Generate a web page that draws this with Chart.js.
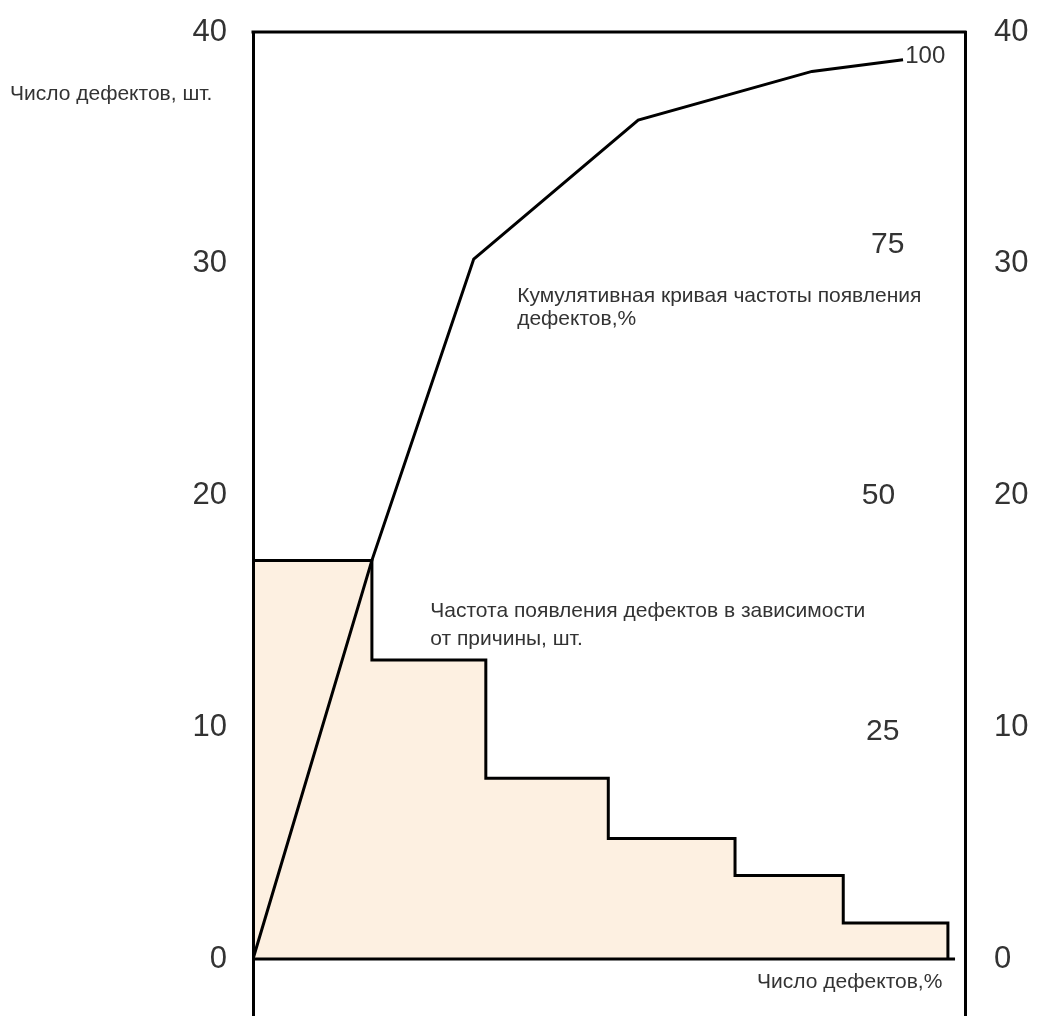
<!DOCTYPE html>
<html>
<head>
<meta charset="utf-8">
<title>Диаграмма Парето</title>
<script src="https://cdn.jsdelivr.net/npm/chart.js@4.4.1/dist/chart.umd.min.js"></script>
<style>
  body { margin: 0; background: #fff; }
  canvas { display: block; }
</style>
</head>
<body>
<canvas id="pareto" width="1045" height="1016"></canvas>
<script>
// Data (y in pieces, x in % of the frame width)
var barEdges = [0, 16.7, 32.7, 49.9, 67.7, 82.9, 97.6];
var defectCounts = [17.2, 12.9, 7.8, 5.2, 3.6, 1.55];
var cumulativeX = [0, 16.7, 31.0, 54.1, 78.5, 91.3];
var cumulativeY = [0, 17.2, 30.2, 36.2, 38.3, 38.8];
var yTicks = [0, 10, 20, 30, 40];
var percentLabels = ["25", "50", "75", "100"];
var percentLevels = [9.8, 20.0, 30.8, 38.95];
var percentX = [86.1, 85.5, 86.8, 91.6];

var FONT = "'Liberation Sans', Arial, sans-serif";
var TEXT = "#333";

// build the stepped outline of the bars
var stepPoints = [];
for (var i = 0; i < defectCounts.length; i++) {
  stepPoints.push({ x: barEdges[i], y: defectCounts[i] });
}
stepPoints.push({ x: barEdges[barEdges.length - 1], y: 0 });

var cumPoints = [];
for (var j = 0; j < cumulativeX.length; j++) {
  cumPoints.push({ x: cumulativeX[j], y: cumulativeY[j] });
}

var basePoints = [{ x: 0, y: 0 }, { x: barEdges[barEdges.length - 1] + 1, y: 0 }];

var textPlugin = {
  id: "texts",
  afterDraw: function(chart) {
    var ctx = chart.ctx;
    var xs = chart.scales.x;
    var ys = chart.scales.y;
    var area = chart.chartArea;
    ctx.save();

    // top of the frame
    ctx.strokeStyle = "#000";
    ctx.lineWidth = 3;
    ctx.beginPath();
    ctx.moveTo(area.left - 1.5, area.top);
    ctx.lineTo(area.right + 1.5, area.top);
    ctx.stroke();

    ctx.fillStyle = TEXT;
    ctx.textAlign = "left";

    // percent marks inside the frame
    ctx.textBaseline = "middle";
    for (var k = 0; k < percentLabels.length; k++) {
      ctx.font = (percentLabels[k] == "100" ? "24px " : "30px ") + FONT;
      ctx.fillText(percentLabels[k], xs.getPixelForValue(percentX[k]), ys.getPixelForValue(percentLevels[k]));
    }

    // notes
    ctx.textBaseline = "alphabetic";
    ctx.font = "21px " + FONT;
    ctx.fillText("Кумулятивная кривая частоты появления", xs.getPixelForValue(37.1), ys.getPixelForValue(28.35));
    ctx.fillText("дефектов,%", xs.getPixelForValue(37.1), ys.getPixelForValue(27.35));
    ctx.fillText("Частота появления дефектов в зависимости", xs.getPixelForValue(24.9), ys.getPixelForValue(14.76));
    ctx.fillText("от причины, шт.", xs.getPixelForValue(24.9), ys.getPixelForValue(13.55));

    // axis captions
    ctx.textBaseline = "middle";
    ctx.font = "21px " + FONT;
    ctx.fillText("Число дефектов, шт.", 10, area.top + 62);
    ctx.fillText("Число дефектов,%", xs.getPixelForValue(70.8), ys.getPixelForValue(-1.0));
    ctx.restore();
  }
};

function fixTicks(axis) {
  axis.ticks = yTicks.map(function(v) { return { value: v }; });
}

function fitLeft(scale) {
  scale.width = 253;
  scale.paddingTop = 0;
  scale.paddingBottom = 0;
}

function fitRight(scale) {
  scale.width = 80;
  scale.paddingTop = 0;
  scale.paddingBottom = 0;
}

var ctx = document.getElementById("pareto");
var chart = new Chart(ctx, {
  type: "line",
  data: {
    datasets: [{
      label: "Частота появления дефектов",
      data: stepPoints,
      stepped: "before",
      borderColor: "#000",
      borderWidth: 3,
      backgroundColor: "#fdf0e1",
      fill: "origin",
      pointRadius: 0,
      order: 2
    }, {
      label: "base",
      data: basePoints,
      borderColor: "#000",
      borderWidth: 3,
      fill: false,
      pointRadius: 0,
      order: 1
    }, {
      label: "Кумулятивная кривая",
      data: cumPoints,
      borderColor: "#000",
      borderWidth: 3,
      fill: false,
      tension: 0,
      pointRadius: 0,
      order: 0
    }]
  },
  options: {
    responsive: false,
    animation: false,
    layout: { padding: { top: 32, left: 0, right: 0, bottom: 0 } },
    plugins: {
      legend: { display: false },
      tooltip: { enabled: false }
    },
    scales: {
      x: { type: "linear", min: 0, max: 100, display: false },
      y: {
        position: "left",
        min: -2.46,
        max: 40,
        afterBuildTicks: fixTicks,
        afterFit: fitLeft,
        grid: { display: false },
        border: { display: true, color: "#000", width: 3, z: 1 },
        ticks: { color: TEXT, font: { family: FONT, size: 31 }, padding: 18 }
      },
      y2: {
        position: "right",
        min: -2.46,
        max: 40,
        afterBuildTicks: fixTicks,
        afterFit: fitRight,
        grid: { display: false },
        border: { display: true, color: "#000", width: 3, z: 1 },
        ticks: { color: TEXT, font: { family: FONT, size: 31 }, padding: 21 }
      }
    }
  },
  plugins: [textPlugin]
});
</script>
</body>
</html>
